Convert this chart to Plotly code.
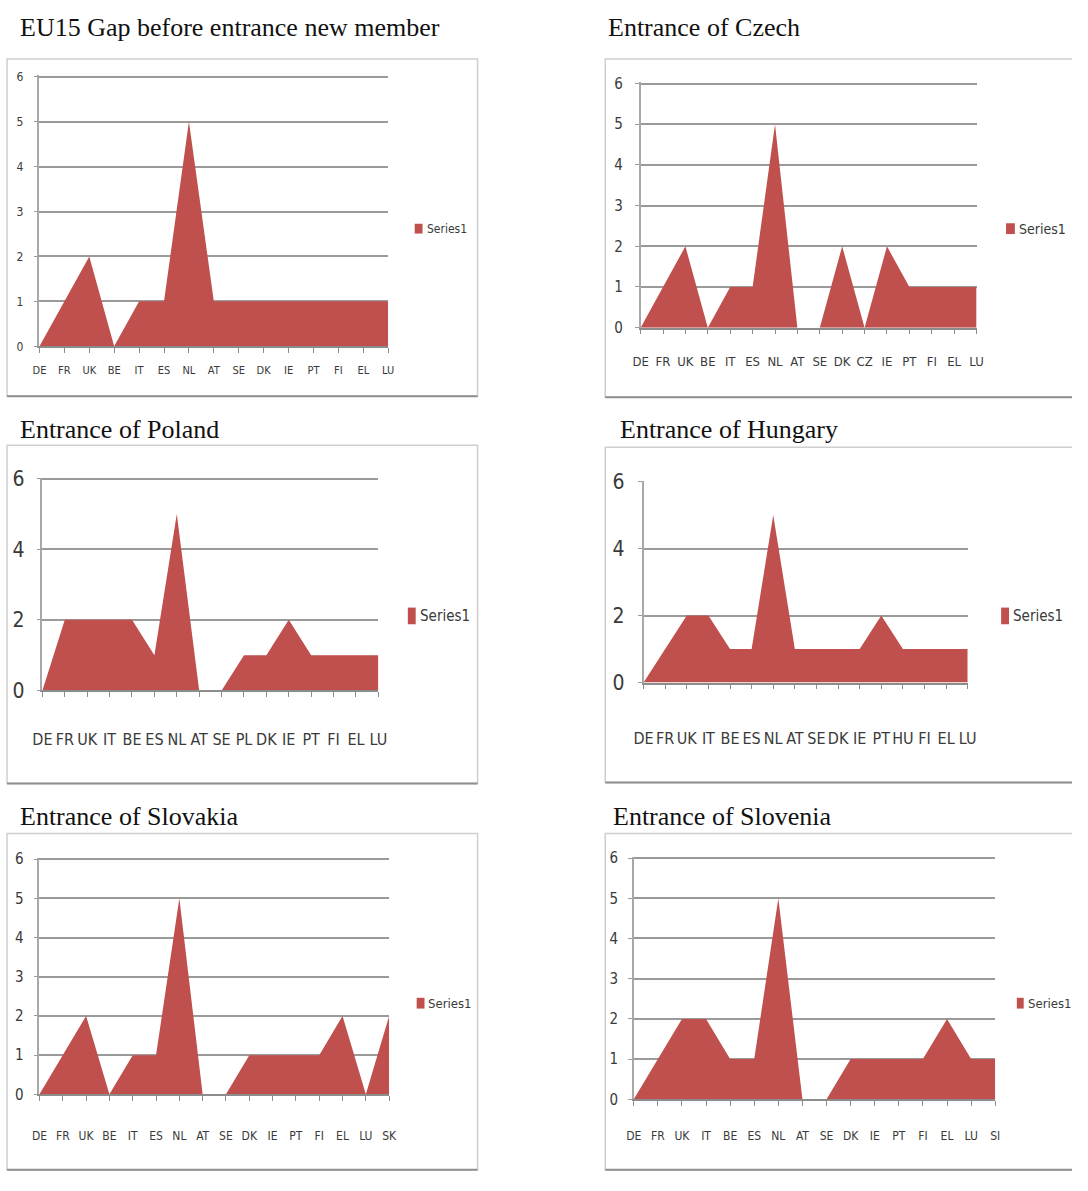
import plotly.graph_objects as go

# page is 1088 x 1191; the default body margin of 8px surrounds the figure
PAGE_W, PAGE_H = 1088, 1191
BODY_MARGIN = 8
W, H = PAGE_W - 2 * BODY_MARGIN, PAGE_H - 2 * BODY_MARGIN
AREA_RED = "#C0504D"

# ---- data: gap per country, one list pair per chart ----
eu15_countries = ["DE", "FR", "UK", "BE", "IT", "ES", "NL", "AT", "SE", "DK", "IE", "PT", "FI", "EL", "LU"]
eu15_gap = [0, 1, 2, 0, 1, 1, 5, 1, 1, 1, 1, 1, 1, 1, 1]

czech_countries = ["DE", "FR", "UK", "BE", "IT", "ES", "NL", "AT", "SE", "DK", "CZ", "IE", "PT", "FI", "EL", "LU"]
czech_gap = [0, 1, 2, 0, 1, 1, 5, 0, 0, 2, 0, 2, 1, 1, 1, 1]

poland_countries = ["DE", "FR", "UK", "IT", "BE", "ES", "NL", "AT", "SE", "PL", "DK", "IE", "PT", "FI", "EL", "LU"]
poland_gap = [0, 2, 2, 2, 2, 1, 5, 0, 0, 1, 1, 2, 1, 1, 1, 1]

hungary_countries = ["DE", "FR", "UK", "IT", "BE", "ES", "NL", "AT", "SE", "DK", "IE", "PT", "HU", "FI", "EL", "LU"]
hungary_gap = [0, 1, 2, 2, 1, 1, 5, 1, 1, 1, 1, 2, 1, 1, 1, 1]

slovakia_countries = ["DE", "FR", "UK", "BE", "IT", "ES", "NL", "AT", "SE", "DK", "IE", "PT", "FI", "EL", "LU", "SK"]
slovakia_gap = [0, 1, 2, 0, 1, 1, 5, 0, 0, 1, 1, 1, 1, 2, 0, 2]

slovenia_countries = ["DE", "FR", "UK", "IT", "BE", "ES", "NL", "AT", "SE", "DK", "IE", "PT", "FI", "EL", "LU", "SI"]
slovenia_gap = [0, 1, 2, 2, 1, 1, 5, 0, 0, 1, 1, 1, 1, 2, 1, 1]

titles = ["EU15 Gap before entrance new member", "Entrance of Czech", "Entrance of Poland",
          "Entrance of Hungary", "Entrance of Slovakia", "Entrance of Slovenia"]
series_name = "Series1"

# ---- page layout of each chart (page pixels) ----
panels = [
    dict(cats=eu15_countries, vals=eu15_gap, title=titles[0], tpos=(18, 25),
         box=(5, 57, 484, 401), plot=(38, 75, 393, 350), ystep=1,
         xfont=11, yfont=12, xoff=23, ylab=22, leg=(420, 230, 8, 10, 12)),
    dict(cats=czech_countries, vals=czech_gap, title=titles[1], tpos=(617, 25),
         box=(614, 57, 1092, 402), plot=(650, 82, 992, 331), ystep=1,
         xfont=13, yfont=15, xoff=32, ylab=632, leg=(1022, 230, 9, 11, 14)),
    dict(cats=poland_countries, vals=poland_gap, title=titles[2], tpos=(18, 435),
         box=(5, 451, 484, 796), plot=(41, 485, 383, 701), ystep=2,
         xfont=16, yfont=21, xoff=46, ylab=22, leg=(413, 625, 8, 17, 15)),
    dict(cats=hungary_countries, vals=hungary_gap, title=titles[3], tpos=(629, 435),
         box=(614, 453, 1092, 795), plot=(653, 488, 983, 693), ystep=2,
         xfont=16, yfont=21, xoff=52, ylab=633, leg=(1017, 625, 8, 17, 15)),
    dict(cats=slovakia_countries, vals=slovakia_gap, title=titles[4], tpos=(18, 830),
         box=(5, 847, 484, 1190), plot=(38, 873, 394, 1113), ystep=1,
         xfont=12, yfont=15, xoff=39, ylab=22, leg=(422, 1020, 8, 11, 13)),
    dict(cats=slovenia_countries, vals=slovenia_gap, title=titles[5], tpos=(622, 830),
         box=(614, 847, 1092, 1190), plot=(643, 872, 1011, 1118), ystep=1,
         xfont=12, yfont=15, xoff=35, ylab=627, leg=(1033, 1020, 7, 11, 13)),
]


def fx(px):
    return (px - BODY_MARGIN) / W


def fy(py):
    return 1 - (py - BODY_MARGIN) / H


TICK_FONT = "Liberation Sans Narrow, DejaVu Sans Condensed, Arial Narrow, sans-serif"
GRID = "#9A9A9A"
Y_TOP = 6.03  # a hair above 6 so the top gridline is kept

fig = go.Figure()
layout = dict(width=W, height=H, margin=dict(l=0, r=0, t=0, b=0),
              paper_bgcolor="white", plot_bgcolor="white", showlegend=False)
shapes, annotations = [], []

for i, p in enumerate(panels, start=1):
    sfx = "" if i == 1 else str(i)
    n = len(p["cats"])
    fig.add_trace(go.Scatter(
        x=list(range(n)), y=p["vals"], mode="lines", fill="tozeroy",
        fillcolor=AREA_RED, line=dict(width=0, color=AREA_RED),
        name=series_name, xaxis="x" + sfx, yaxis="y" + sfx,
    ))
    x0, y0, x1, y1 = p["plot"]
    y0 -= (Y_TOP - 6) / 6 * (y1 - y0)
    ticklen = 5
    layout["xaxis" + sfx] = dict(
        domain=[fx(x0), fx(x1)], anchor="y" + sfx, range=[0, n - 1],
        tickmode="array", tickvals=list(range(n)), ticktext=p["cats"],
        showline=True, linecolor="#8C8C8C", linewidth=1.5,
        ticks="outside", ticklen=ticklen, tickcolor="#8C8C8C", tickwidth=1,
        showgrid=False, zeroline=False, tickangle=0,
        tickfont=dict(family=TICK_FONT, size=p["xfont"], color="#3A3A3A"),
        ticklabelstandoff=max(0, int(p["xoff"] - ticklen - 3 - p["xfont"] * 0.55)),
    )
    ystand = max(0, int((x0 - p["ylab"]) - 4 - p["yfont"] * 0.3))
    layout["yaxis" + sfx] = dict(
        domain=[max(0, fy(y1)), min(1, fy(y0))], anchor="x" + sfx, range=[0, Y_TOP],
        tickmode="linear", tick0=0, dtick=p["ystep"],
        showline=True, linecolor="#A8A8A8", linewidth=1.5,
        ticks="outside", ticklen=4, tickcolor=GRID,
        showgrid=True, gridcolor=GRID, gridwidth=1.5, zeroline=False,
        tickfont=dict(family=TICK_FONT, size=p["yfont"], color="#3A3A3A"),
        ticklabelstandoff=ystand,
    )
    # chart frame: light top/left/right edges, darker bottom edge
    bx0, by0, bx1, by1 = p["box"]
    shapes.append(dict(type="rect", xref="paper", yref="paper",
                       x0=fx(bx0), x1=fx(bx1), y0=fy(by1), y1=fy(by0),
                       line=dict(color="#CFCFCF", width=1.5), fillcolor="rgba(0,0,0,0)", layer="below"))
    shapes.append(dict(type="line", xref="paper", yref="paper",
                       x0=fx(bx0), x1=fx(bx1), y0=fy(by1), y1=fy(by1),
                       line=dict(color="#8E8E8E", width=2)))
    # legend swatch and label
    lx, ly, sw, sh, lfs = p["leg"]
    shapes.append(dict(type="rect", xref="paper", yref="paper",
                       x0=fx(lx), x1=fx(lx + sw), y0=fy(ly + sh / 2), y1=fy(ly - sh / 2),
                       line=dict(width=0), fillcolor=AREA_RED))
    annotations.append(dict(text=series_name, xref="paper", yref="paper",
                            x=fx(lx + sw + 2), y=fy(ly), xanchor="left", yanchor="middle",
                            showarrow=False,
                            font=dict(family=TICK_FONT, size=lfs, color="#3A3A3A")))
    # chart heading
    tx, ty = p["tpos"]
    annotations.append(dict(text=p["title"], xref="paper", yref="paper",
                            x=fx(tx - 2), y=fy(ty), xanchor="left", yanchor="middle",
                            showarrow=False,
                            font=dict(family="Liberation Serif, Times New Roman, serif",
                                      size=26, color="#111111")))

layout["shapes"] = shapes
layout["annotations"] = annotations
fig.update_layout(**layout)
fig.write_html("out.html")
